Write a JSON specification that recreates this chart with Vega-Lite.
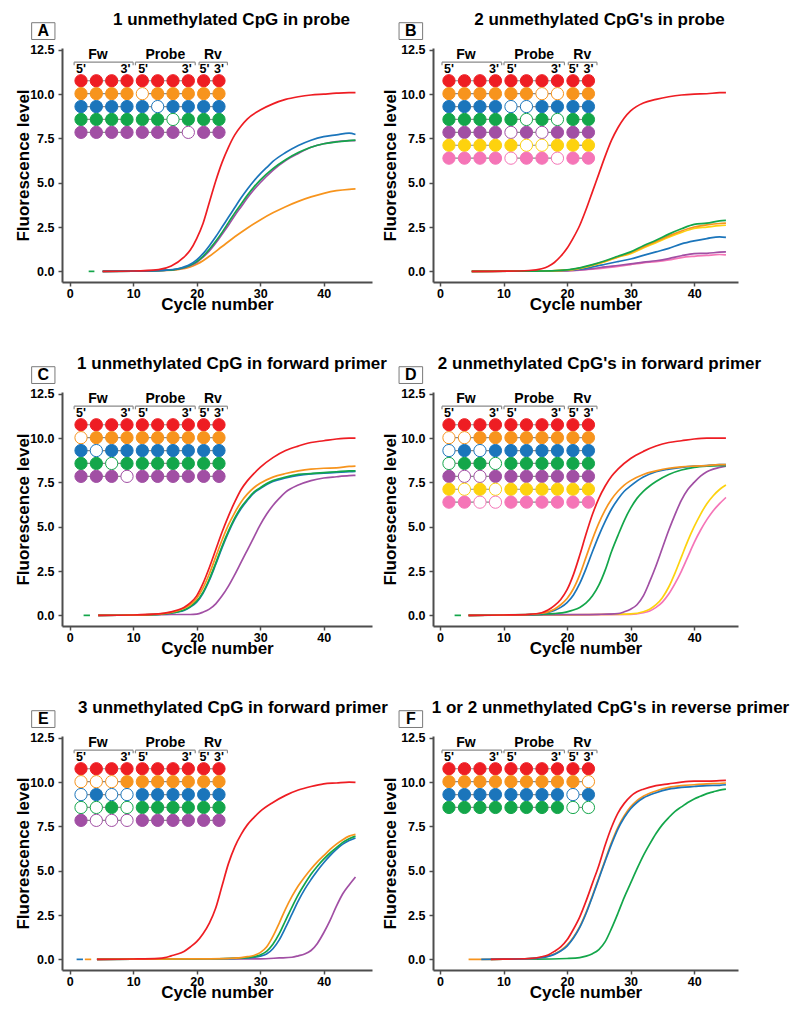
{
  "$schema": "https://vega.github.io/schema/vega-lite/v6.json",
  "background": "white",
  "padding": {"left": 14, "top": 10, "right": 5, "bottom": 5},
  "columns": 2,
  "spacing": {"row": 110, "column": 61},
  "bounds": "flush",
  "config": {
    "font": "Liberation Sans",
    "view": {"stroke": null},
    "title": {"fontSize": 17, "fontWeight": "bold", "color": "black", "anchor": "middle", "frame": "group", "baseline": "alphabetic", "offset": -6.5},
    "axis": {"domainColor": "#4d4d4d", "domainWidth": 2, "tickColor": "#4d4d4d", "tickWidth": 1.5, "tickSize": 4, "labelFontSize": 12.5, "labelFontWeight": "bold", "labelColor": "black", "titleFontSize": 17, "titleFontWeight": "bold", "titleColor": "black", "grid": false, "labelFlush": false, "labelOverlap": false},
    "axisX": {"labelPadding": 1.5, "titlePadding": -3.5},
    "axisY": {"labelPadding": 4, "titlePadding": -3}
  },
  "datasets": {
    "curves": [
      {"p": "A", "id": "A0", "s": "green", "c": [3, 3.9], "f": [0, 0]},
      {"p": "A", "id": "A1", "s": "orange", "c": [5.2,10,15,17,19,20,21,22,24,26,28,30,32,34,36,38,40,42,44,45], "f": [0,0.01,0.05,0.1,0.25,0.4,0.6,0.85,1.4,1.95,2.45,2.9,3.3,3.65,3.95,4.2,4.4,4.55,4.63,4.65]},
      {"p": "A", "id": "A2", "s": "purple", "c": [5.2,10,15,17,19,20,21,22,23,24,25,26,27,28,29,30,32,34,36,38,40,42,44,45], "f": [0,0.01,0.06,0.12,0.32,0.5,0.8,1.15,1.6,2.1,2.6,3.15,3.65,4.15,4.6,5.0,5.7,6.25,6.65,7.0,7.2,7.32,7.37,7.38]},
      {"p": "A", "id": "A3", "s": "green", "c": [5.2,10,15,17,19,20,21,22,23,24,25,26,27,28,29,30,32,34,36,38,40,42,44,45], "f": [0,0.01,0.06,0.13,0.35,0.55,0.85,1.25,1.7,2.2,2.75,3.3,3.8,4.3,4.75,5.15,5.8,6.3,6.7,7.0,7.2,7.3,7.38,7.4]},
      {"p": "A", "id": "A4", "s": "blue", "c": [5.2,10,15,17,19,20,21,22,23,24,25,26,27,28,29,30,31,32,34,36,38,40,42,44,45], "f": [0,0.01,0.07,0.15,0.4,0.65,1.0,1.45,1.95,2.5,3.05,3.6,4.15,4.65,5.1,5.5,5.85,6.2,6.7,7.1,7.4,7.6,7.7,7.8,7.72]},
      {"p": "A", "id": "A5", "s": "red", "c": [5.2,10,14,16,18,19,20,21,22,23,24,25,26,27,28,30,32,34,36,38,40,42,44,45], "f": [0,0.02,0.1,0.3,0.8,1.2,1.85,2.7,3.9,5.1,6.15,7.0,7.7,8.2,8.6,9.1,9.45,9.7,9.85,9.95,10.0,10.05,10.08,10.08]},

      {"p": "B", "id": "B1", "s": "pink", "c": [5,15,20,22,24,26,28,30,32,34,36,38,40,42,44,45], "f": [0,0.01,0.03,0.07,0.12,0.2,0.28,0.38,0.48,0.55,0.65,0.78,0.85,0.9,0.95,0.93]},
      {"p": "B", "id": "B2", "s": "purple", "c": [5,15,20,22,24,26,28,30,32,34,36,38,40,42,44,45], "f": [0,0.01,0.04,0.08,0.15,0.25,0.33,0.42,0.52,0.6,0.72,0.88,1.0,1.02,1.08,1.1]},
      {"p": "B", "id": "B3", "s": "blue", "c": [5,15,20,22,24,26,28,30,32,34,36,38,40,42,44,45], "f": [0,0.01,0.05,0.12,0.25,0.4,0.55,0.7,0.9,1.1,1.3,1.55,1.72,1.85,1.95,1.92]},
      {"p": "B", "id": "B4", "s": "yellow", "c": [5,15,20,22,24,26,28,30,32,34,36,38,40,42,44,45], "f": [0,0.01,0.07,0.17,0.34,0.55,0.8,1.0,1.32,1.62,1.93,2.2,2.42,2.5,2.58,2.6]},
      {"p": "B", "id": "B5", "s": "orange", "c": [5,15,20,22,24,26,28,30,32,34,36,38,40,42,44,45], "f": [0,0.01,0.07,0.18,0.36,0.57,0.82,1.05,1.38,1.68,2.0,2.28,2.5,2.62,2.7,2.72]},
      {"p": "B", "id": "B6", "s": "green", "c": [5,15,20,22,24,26,28,30,32,34,36,38,40,42,44,45], "f": [0,0.01,0.08,0.2,0.38,0.6,0.85,1.1,1.45,1.75,2.1,2.4,2.65,2.72,2.85,2.88]},
      {"p": "B", "id": "B7", "s": "red", "c": [5,10,14,16,17,18,19,20,21,22,23,24,25,26,27,28,29,30,32,34,36,38,40,42,44,45], "f": [0,0.01,0.05,0.15,0.28,0.5,0.85,1.3,1.9,2.6,3.5,4.5,5.5,6.5,7.4,8.1,8.65,9.05,9.5,9.7,9.85,9.95,10.0,10.02,10.08,10.08]},

      {"p": "C", "id": "C0", "s": "green", "c": [2.2, 3.2], "f": [0, 0]},
      {"p": "C", "id": "C1", "s": "purple", "c": [4.5,10,14,16,18,19,20,21,22,23,24,25,26,27,28,29,30,31,32,33,34,36,38,40,42,44,45], "f": [0,0.02,0.04,0.05,0.05,0.05,0.07,0.18,0.35,0.65,1.1,1.65,2.3,3.0,3.7,4.4,5.1,5.7,6.2,6.6,6.95,7.35,7.6,7.75,7.82,7.88,7.9]},
      {"p": "C", "id": "C2", "s": "blue", "c": [4.5,10,14,16,17,18,19,20,21,22,23,24,25,26,27,28,29,30,32,34,36,38,40,42,44,45], "f": [0,0.02,0.06,0.13,0.19,0.28,0.47,0.75,1.25,1.98,2.88,3.82,4.68,5.43,6.03,6.5,6.9,7.15,7.55,7.75,7.9,7.98,8.02,8.06,8.1,8.12]},
      {"p": "C", "id": "C3", "s": "green", "c": [4.5,10,14,16,17,18,19,20,21,22,23,24,25,26,27,28,29,30,32,34,36,38,40,42,44,45], "f": [0,0.02,0.06,0.14,0.2,0.3,0.5,0.8,1.3,2.05,2.95,3.9,4.75,5.5,6.1,6.55,6.95,7.2,7.6,7.8,7.95,8.0,8.05,8.1,8.15,8.15]},
      {"p": "C", "id": "C4", "s": "orange", "c": [4.5,10,14,16,17,18,19,20,21,22,23,24,25,26,27,28,29,30,32,34,36,38,40,42,44,45], "f": [0,0.02,0.07,0.17,0.26,0.4,0.6,0.95,1.55,2.35,3.3,4.25,5.1,5.8,6.4,6.85,7.2,7.45,7.8,8.0,8.15,8.25,8.3,8.32,8.4,8.42]},
      {"p": "C", "id": "C5", "s": "red", "c": [4.5,10,14,16,17,18,19,20,21,22,23,24,25,26,27,28,29,30,32,34,36,38,40,42,44,45], "f": [0,0.02,0.08,0.2,0.3,0.45,0.7,1.1,1.8,2.7,3.7,4.7,5.6,6.4,7.1,7.6,8.0,8.35,8.9,9.3,9.55,9.75,9.85,9.95,10.0,10.0]},

      {"p": "D", "id": "D0", "s": "green", "c": [2.3, 3.3], "f": [0, 0]},
      {"p": "D", "id": "D1", "s": "pink", "c": [4.5,10,20,25,30,32,33,34,35,36,37,38,39,40,41,42,43,44,45], "f": [0,0.02,0.03,0.04,0.05,0.15,0.25,0.45,0.75,1.2,1.8,2.5,3.3,4.1,4.8,5.4,5.9,6.3,6.65]},
      {"p": "D", "id": "D2", "s": "yellow", "c": [4.5,10,20,25,30,32,33,34,35,36,37,38,39,40,41,42,43,44,45], "f": [0,0.02,0.03,0.05,0.08,0.2,0.35,0.6,1.0,1.6,2.4,3.3,4.2,5.0,5.7,6.3,6.75,7.1,7.35]},
      {"p": "D", "id": "D3", "s": "purple", "c": [4.5,10,20,25,28,29,30,31,32,33,34,35,36,37,38,39,40,41,42,43,44,45], "f": [0,0.02,0.04,0.06,0.1,0.2,0.35,0.6,1.1,1.9,2.8,3.8,4.8,5.7,6.5,7.1,7.5,7.85,8.1,8.25,8.35,8.42]},
      {"p": "D", "id": "D4", "s": "green", "c": [4.5,10,14,16,18,20,21,22,23,24,25,26,27,28,29,30,31,32,33,34,36,38,40,42,44,45], "f": [0,0.02,0.04,0.06,0.1,0.2,0.3,0.45,0.7,1.1,1.7,2.55,3.6,4.5,5.35,6.05,6.6,7.0,7.3,7.55,7.95,8.2,8.35,8.42,8.45,8.45]},
      {"p": "D", "id": "D5", "s": "blue", "c": [4.5,10,14,16,17,18,19,20,21,22,23,24,25,26,27,28,29,30,32,34,36,38,40,42,44,45], "f": [0,0.02,0.05,0.1,0.17,0.28,0.45,0.72,1.15,1.8,2.65,3.6,4.5,5.3,6.0,6.55,7.0,7.3,7.8,8.1,8.25,8.35,8.42,8.45,8.5,8.5]},
      {"p": "D", "id": "D6", "s": "orange", "c": [4.5,10,14,16,17,18,19,20,21,22,23,24,25,26,27,28,29,30,32,34,36,38,40,42,44,45], "f": [0,0.02,0.05,0.12,0.2,0.35,0.6,0.95,1.5,2.3,3.3,4.3,5.2,5.95,6.55,7.0,7.35,7.6,7.95,8.15,8.3,8.38,8.42,8.45,8.5,8.5]},
      {"p": "D", "id": "D7", "s": "red", "c": [4.5,10,14,16,17,18,19,20,21,22,23,24,25,26,27,28,30,32,34,36,38,40,42,45], "f": [0,0.02,0.06,0.15,0.3,0.55,0.9,1.45,2.3,3.4,4.6,5.7,6.6,7.3,7.85,8.25,8.85,9.25,9.55,9.75,9.85,9.95,10.0,10.0]},

      {"p": "E", "id": "E0", "s": "blue", "c": [1.1, 2.1], "f": [0, 0]},
      {"p": "E", "id": "E1", "s": "orange", "c": [2.4, 3.4], "f": [0, 0]},
      {"p": "E", "id": "E2", "s": "purple", "c": [4.3,10,20,30,33,35,36,37,38,39,40,41,42,43,44,45], "f": [0,0.01,0.02,0.03,0.08,0.12,0.2,0.3,0.5,0.9,1.5,2.2,3.0,3.7,4.2,4.65]},
      {"p": "E", "id": "E3", "s": "blue", "c": [4.3,10,20,25,28,29,30,31,32,33,34,35,36,37,38,39,40,41,42,43,44,45], "f": [0,0.01,0.03,0.05,0.08,0.12,0.18,0.3,0.6,1.1,1.8,2.55,3.3,3.95,4.5,5.0,5.45,5.85,6.2,6.5,6.7,6.85]},
      {"p": "E", "id": "E4", "s": "green", "c": [4.3,10,20,25,28,29,30,31,32,33,34,35,36,37,38,39,40,41,42,43,44,45], "f": [0,0.01,0.03,0.05,0.1,0.15,0.25,0.45,0.85,1.45,2.2,2.95,3.65,4.25,4.8,5.25,5.65,6.0,6.3,6.6,6.8,6.95]},
      {"p": "E", "id": "E5", "s": "orange", "c": [4.3,10,20,25,27,28,29,30,31,32,33,34,35,36,37,38,39,40,41,42,43,44,45], "f": [0,0.01,0.03,0.06,0.1,0.15,0.22,0.38,0.7,1.3,2.05,2.85,3.55,4.15,4.65,5.1,5.5,5.85,6.2,6.5,6.75,6.95,7.05]},
      {"p": "E", "id": "E6", "s": "red", "c": [4.3,10,14,15,16,17,18,19,20,21,22,23,24,25,26,27,28,29,30,32,34,36,38,40,42,44,45], "f": [0,0.02,0.06,0.1,0.2,0.3,0.45,0.7,1.0,1.45,2.05,2.9,4.15,5.4,6.35,7.05,7.6,8.0,8.35,8.85,9.25,9.55,9.75,9.9,9.95,10.0,9.98]},

      {"p": "F", "id": "F1", "s": "green", "c": [8,10,15,20,22,23,24,25,26,27,28,29,30,31,32,33,34,35,36,37,38,39,40,41,42,43,44,45], "f": [0,0.01,0.01,0.05,0.1,0.18,0.32,0.55,1.0,1.75,2.6,3.5,4.3,5.1,5.85,6.5,7.1,7.6,8.0,8.35,8.6,8.85,9.05,9.2,9.35,9.45,9.55,9.6]},
      {"p": "F", "id": "F2", "s": "orange", "c": [4.5,10,14,16,17,18,19,20,21,22,23,24,25,26,27,28,29,30,31,32,34,36,38,40,42,44,45], "f": [0,0.01,0.04,0.1,0.18,0.3,0.5,0.8,1.25,1.85,2.65,3.6,4.6,5.6,6.6,7.45,8.1,8.6,8.95,9.2,9.5,9.7,9.8,9.85,9.9,9.92,9.95]},
      {"p": "F", "id": "F3", "s": "blue", "c": [6.5,10,14,16,17,18,19,20,21,22,23,24,25,26,27,28,29,30,31,32,34,36,38,40,42,44,45], "f": [0,0.01,0.04,0.1,0.17,0.28,0.47,0.75,1.2,1.8,2.6,3.55,4.55,5.55,6.5,7.35,8.0,8.5,8.85,9.1,9.4,9.6,9.7,9.75,9.8,9.82,9.85]},
      {"p": "F", "id": "F4", "s": "red", "c": [8,10,14,16,17,18,19,20,21,22,23,24,25,26,27,28,29,30,31,32,34,36,38,40,42,44,45], "f": [0,0.01,0.05,0.15,0.25,0.45,0.7,1.1,1.7,2.4,3.3,4.3,5.3,6.45,7.45,8.25,8.8,9.2,9.45,9.6,9.8,9.9,10.0,10.05,10.05,10.08,10.1]}
    ],
    "dots": [
      {"p": "A", "r": 1, "s": "red", "k": [0,1,2,3,4,5,6,7,8,9], "g": ["F","F","F","F","P","P","P","P","R","R"], "o": [0,0,0,0,0,0,0,0,0,0]},
      {"p": "A", "r": 2, "s": "orange", "k": [0,1,2,3,4,5,6,7,8,9], "g": ["F","F","F","F","P","P","P","P","R","R"], "o": [0,0,0,0,1,0,0,0,0,0]},
      {"p": "A", "r": 3, "s": "blue", "k": [0,1,2,3,4,5,6,7,8,9], "g": ["F","F","F","F","P","P","P","P","R","R"], "o": [0,0,0,0,0,1,0,0,0,0]},
      {"p": "A", "r": 4, "s": "green", "k": [0,1,2,3,4,5,6,7,8,9], "g": ["F","F","F","F","P","P","P","P","R","R"], "o": [0,0,0,0,0,0,1,0,0,0]},
      {"p": "A", "r": 5, "s": "purple", "k": [0,1,2,3,4,5,6,7,8,9], "g": ["F","F","F","F","P","P","P","P","R","R"], "o": [0,0,0,0,0,0,0,1,0,0]},

      {"p": "B", "r": 1, "s": "red", "k": [0,1,2,3,4,5,6,7,8,9], "g": ["F","F","F","F","P","P","P","P","R","R"], "o": [0,0,0,0,0,0,0,0,0,0]},
      {"p": "B", "r": 2, "s": "orange", "k": [0,1,2,3,4,5,6,7,8,9], "g": ["F","F","F","F","P","P","P","P","R","R"], "o": [0,0,0,0,0,0,1,1,0,0]},
      {"p": "B", "r": 3, "s": "blue", "k": [0,1,2,3,4,5,6,7,8,9], "g": ["F","F","F","F","P","P","P","P","R","R"], "o": [0,0,0,0,1,1,0,0,0,0]},
      {"p": "B", "r": 4, "s": "green", "k": [0,1,2,3,4,5,6,7,8,9], "g": ["F","F","F","F","P","P","P","P","R","R"], "o": [0,0,0,0,0,1,0,1,0,0]},
      {"p": "B", "r": 5, "s": "purple", "k": [0,1,2,3,4,5,6,7,8,9], "g": ["F","F","F","F","P","P","P","P","R","R"], "o": [0,0,0,0,1,0,1,0,0,0]},
      {"p": "B", "r": 6, "s": "yellow", "k": [0,1,2,3,4,5,6,7,8,9], "g": ["F","F","F","F","P","P","P","P","R","R"], "o": [0,0,0,0,0,1,1,0,0,0]},
      {"p": "B", "r": 7, "s": "pink", "k": [0,1,2,3,4,5,6,7,8,9], "g": ["F","F","F","F","P","P","P","P","R","R"], "o": [0,0,0,0,1,0,0,1,0,0]},

      {"p": "C", "r": 1, "s": "red", "k": [0,1,2,3,4,5,6,7,8,9], "g": ["F","F","F","F","P","P","P","P","R","R"], "o": [0,0,0,0,0,0,0,0,0,0]},
      {"p": "C", "r": 2, "s": "orange", "k": [0,1,2,3,4,5,6,7,8,9], "g": ["F","F","F","F","P","P","P","P","R","R"], "o": [1,0,0,0,0,0,0,0,0,0]},
      {"p": "C", "r": 3, "s": "blue", "k": [0,1,2,3,4,5,6,7,8,9], "g": ["F","F","F","F","P","P","P","P","R","R"], "o": [0,1,0,0,0,0,0,0,0,0]},
      {"p": "C", "r": 4, "s": "green", "k": [0,1,2,3,4,5,6,7,8,9], "g": ["F","F","F","F","P","P","P","P","R","R"], "o": [0,0,1,0,0,0,0,0,0,0]},
      {"p": "C", "r": 5, "s": "purple", "k": [0,1,2,3,4,5,6,7,8,9], "g": ["F","F","F","F","P","P","P","P","R","R"], "o": [0,0,0,1,0,0,0,0,0,0]},

      {"p": "D", "r": 1, "s": "red", "k": [0,1,2,3,4,5,6,7,8,9], "g": ["F","F","F","F","P","P","P","P","R","R"], "o": [0,0,0,0,0,0,0,0,0,0]},
      {"p": "D", "r": 2, "s": "orange", "k": [0,1,2,3,4,5,6,7,8,9], "g": ["F","F","F","F","P","P","P","P","R","R"], "o": [1,1,0,0,0,0,0,0,0,0]},
      {"p": "D", "r": 3, "s": "blue", "k": [0,1,2,3,4,5,6,7,8,9], "g": ["F","F","F","F","P","P","P","P","R","R"], "o": [1,0,1,0,0,0,0,0,0,0]},
      {"p": "D", "r": 4, "s": "green", "k": [0,1,2,3,4,5,6,7,8,9], "g": ["F","F","F","F","P","P","P","P","R","R"], "o": [1,0,0,1,0,0,0,0,0,0]},
      {"p": "D", "r": 5, "s": "purple", "k": [0,1,2,3,4,5,6,7,8,9], "g": ["F","F","F","F","P","P","P","P","R","R"], "o": [0,1,1,0,0,0,0,0,0,0]},
      {"p": "D", "r": 6, "s": "yellow", "k": [0,1,2,3,4,5,6,7,8,9], "g": ["F","F","F","F","P","P","P","P","R","R"], "o": [0,1,0,1,0,0,0,0,0,0]},
      {"p": "D", "r": 7, "s": "pink", "k": [0,1,2,3,4,5,6,7,8,9], "g": ["F","F","F","F","P","P","P","P","R","R"], "o": [0,0,1,1,0,0,0,0,0,0]},

      {"p": "E", "r": 1, "s": "red", "k": [0,1,2,3,4,5,6,7,8,9], "g": ["F","F","F","F","P","P","P","P","R","R"], "o": [0,0,0,0,0,0,0,0,0,0]},
      {"p": "E", "r": 2, "s": "orange", "k": [0,1,2,3,4,5,6,7,8,9], "g": ["F","F","F","F","P","P","P","P","R","R"], "o": [1,1,1,0,0,0,0,0,0,0]},
      {"p": "E", "r": 3, "s": "blue", "k": [0,1,2,3,4,5,6,7,8,9], "g": ["F","F","F","F","P","P","P","P","R","R"], "o": [1,0,1,1,0,0,0,0,0,0]},
      {"p": "E", "r": 4, "s": "green", "k": [0,1,2,3,4,5,6,7,8,9], "g": ["F","F","F","F","P","P","P","P","R","R"], "o": [1,1,0,1,0,0,0,0,0,0]},
      {"p": "E", "r": 5, "s": "purple", "k": [0,1,2,3,4,5,6,7,8,9], "g": ["F","F","F","F","P","P","P","P","R","R"], "o": [0,1,1,1,0,0,0,0,0,0]},

      {"p": "F", "r": 1, "s": "red", "k": [0,1,2,3,4,5,6,7,8,9], "g": ["F","F","F","F","P","P","P","P","R","R"], "o": [0,0,0,0,0,0,0,0,0,0]},
      {"p": "F", "r": 2, "s": "orange", "k": [0,1,2,3,4,5,6,7,8,9], "g": ["F","F","F","F","P","P","P","P","R","R"], "o": [0,0,0,0,0,0,0,0,0,1]},
      {"p": "F", "r": 3, "s": "blue", "k": [0,1,2,3,4,5,6,7,8,9], "g": ["F","F","F","F","P","P","P","P","R","R"], "o": [0,0,0,0,0,0,0,0,1,0]},
      {"p": "F", "r": 4, "s": "green", "k": [0,1,2,3,4,5,6,7,8,9], "g": ["F","F","F","F","P","P","P","P","R","R"], "o": [0,0,0,0,0,0,0,0,1,1]}
    ],
    "parts": [
      {"g": "F", "lab": "Fw", "lo": -0.45, "hi": 3.4, "mid": 1.1},
      {"g": "P", "lab": "Probe", "lo": 3.55, "hi": 7.45, "mid": 5.5},
      {"g": "R", "lab": "Rv", "lo": 7.7, "hi": 9.55, "mid": 8.6}
    ],
    "ends": [
      {"k": 0, "t": "5'"}, {"k": 2.9, "t": "3'"},
      {"k": 4.05, "t": "5'"}, {"k": 6.9, "t": "3'"},
      {"k": 8.05, "t": "5'"}, {"k": 9, "t": "3'"}
    ]
  },
  "concat": [
    {
      "width": 310, "height": 234,
      "title": {"text": "1 unmethylated CpG in probe", "dx": 14.5},
      "resolve": {"scale": {"x": "independent", "y": "independent"}},
      "layer": [
        {"data": {"name": "curves"}, "transform": [{"filter": "datum.p == 'A'"}, {"flatten": ["c", "f"]}],
         "mark": {"type": "line", "strokeWidth": 1.7, "interpolate": "monotone"},
         "encoding": {
           "x": {"field": "c", "type": "quantitative", "scale": {"domain": [-1.2, 47.6], "nice": false, "zero": false}, "axis": {"values": [0, 10, 20, 30, 40], "title": "Cycle number"}},
           "y": {"field": "f", "type": "quantitative", "scale": {"domain": [-0.6, 12.6], "nice": false, "zero": false}, "axis": {"values": [0, 2.5, 5, 7.5, 10, 12.5], "format": ".1f", "title": "Fluorescence level"}},
           "color": {"field": "s", "type": "nominal", "scale": {"domain": ["red","orange","blue","green","purple","yellow","pink"], "range": ["#EE1D23","#F7941D","#1B75BB","#13A64A","#A14FA4","#FDD20E","#F575B7"]}, "legend": null},
           "detail": {"field": "id"}}},
        {"layer": [
          {"data": {"name": "dots"}, "transform": [{"filter": "datum.p == 'A'"}, {"flatten": ["k", "g", "o"]}],
           "layer": [
             {"mark": {"type": "line", "color": "#8a8a8a", "strokeWidth": 1.2},
              "encoding": {"x": {"field": "k", "type": "quantitative", "scale": {"domain": [-1.24, 18.98], "nice": false, "zero": false}, "axis": null},
                           "y": {"field": "r", "type": "quantitative", "scale": {"domain": [-1.54, 16.6], "nice": false, "zero": false, "reverse": true}, "axis": null},
                           "detail": [{"field": "r"}, {"field": "g"}]}},
             {"mark": {"type": "point", "shape": "circle", "size": 150, "filled": true, "strokeWidth": 1, "opacity": 1},
              "encoding": {"x": {"field": "k", "type": "quantitative", "scale": {"domain": [-1.24, 18.98], "nice": false, "zero": false}, "axis": null},
                           "y": {"field": "r", "type": "quantitative", "scale": {"domain": [-1.54, 16.6], "nice": false, "zero": false, "reverse": true}, "axis": null},
                           "fill": {"field": "s", "type": "nominal", "scale": {"domain": ["red","orange","blue","green","purple","yellow","pink"], "range": ["#EE1D23","#F7941D","#1B75BB","#13A64A","#A14FA4","#FDD20E","#F575B7"]}, "legend": null, "condition": {"test": "datum.o == 1", "value": "white"}},
                           "stroke": {"field": "s", "type": "nominal", "scale": {"domain": ["red","orange","blue","green","purple","yellow","pink"], "range": ["#EE1D23","#F7941D","#1B75BB","#13A64A","#A14FA4","#FDD20E","#F575B7"]}, "legend": null}}}]},
          {"data": {"name": "parts"},
           "layer": [
             {"mark": {"type": "rule", "color": "#8a8a8a", "strokeWidth": 1.2},
              "encoding": {"x": {"field": "lo", "type": "quantitative", "scale": {"domain": [-1.24, 18.98], "nice": false, "zero": false}, "axis": null}, "x2": {"field": "hi"},
                           "y": {"datum": -0.44, "type": "quantitative", "scale": {"domain": [-1.54, 16.6], "nice": false, "zero": false, "reverse": true}, "axis": null}}},
             {"mark": {"type": "rule", "color": "#8a8a8a", "strokeWidth": 1.2},
              "encoding": {"x": {"field": "lo", "type": "quantitative", "scale": {"domain": [-1.24, 18.98], "nice": false, "zero": false}, "axis": null},
                           "y": {"datum": -0.44, "type": "quantitative", "scale": {"domain": [-1.54, 16.6], "nice": false, "zero": false, "reverse": true}, "axis": null}, "y2": {"datum": -0.2}}},
             {"mark": {"type": "rule", "color": "#8a8a8a", "strokeWidth": 1.2},
              "encoding": {"x": {"field": "hi", "type": "quantitative", "scale": {"domain": [-1.24, 18.98], "nice": false, "zero": false}, "axis": null},
                           "y": {"datum": -0.44, "type": "quantitative", "scale": {"domain": [-1.54, 16.6], "nice": false, "zero": false, "reverse": true}, "axis": null}, "y2": {"datum": -0.2}}},
             {"mark": {"type": "text", "fontSize": 14, "fontWeight": "bold", "baseline": "middle", "color": "black"},
              "encoding": {"x": {"field": "mid", "type": "quantitative", "scale": {"domain": [-1.24, 18.98], "nice": false, "zero": false}, "axis": null},
                           "y": {"datum": -0.98, "type": "quantitative", "scale": {"domain": [-1.54, 16.6], "nice": false, "zero": false, "reverse": true}, "axis": null},
                           "text": {"field": "lab"}}}]},
          {"data": {"name": "ends"},
           "mark": {"type": "text", "fontSize": 12.5, "fontWeight": "bold", "baseline": "middle", "color": "black"},
           "encoding": {"x": {"field": "k", "type": "quantitative", "scale": {"domain": [-1.24, 18.98], "nice": false, "zero": false}, "axis": null},
                        "y": {"datum": 0.09, "type": "quantitative", "scale": {"domain": [-1.54, 16.6], "nice": false, "zero": false, "reverse": true}, "axis": null},
                        "text": {"field": "t"}}},
          {"data": {"values": [{"t": "A"}]},
           "layer": [
             {"mark": {"type": "rect", "fill": "white", "stroke": "#7a7a7a", "strokeWidth": 1},
              "encoding": {"x": {"datum": -3.22, "type": "quantitative", "scale": {"domain": [-1.24, 18.98], "nice": false, "zero": false}, "axis": null}, "x2": {"datum": -1.7},
                           "y": {"datum": -3.5, "type": "quantitative", "scale": {"domain": [-1.54, 16.6], "nice": false, "zero": false, "reverse": true}, "axis": null}, "y2": {"datum": -2.2}}},
             {"mark": {"type": "text", "fontSize": 16, "fontWeight": "bold", "baseline": "middle", "color": "black"},
              "encoding": {"x": {"datum": -2.46, "type": "quantitative", "scale": {"domain": [-1.24, 18.98], "nice": false, "zero": false}, "axis": null},
                           "y": {"datum": -2.85, "type": "quantitative", "scale": {"domain": [-1.54, 16.6], "nice": false, "zero": false, "reverse": true}, "axis": null},
                           "text": {"field": "t"}}}]}
        ]}
      ]
    },
    {
      "width": 305, "height": 234,
      "title": {"text": "2 unmethylated CpG's in probe", "dx": 14},
      "resolve": {"scale": {"x": "independent", "y": "independent"}},
      "layer": [
        {"data": {"name": "curves"}, "transform": [{"filter": "datum.p == 'B'"}, {"flatten": ["c", "f"]}],
         "mark": {"type": "line", "strokeWidth": 1.7, "interpolate": "monotone"},
         "encoding": {
           "x": {"field": "c", "type": "quantitative", "scale": {"domain": [-1.1, 46.9], "nice": false, "zero": false}, "axis": {"values": [0, 10, 20, 30, 40], "title": "Cycle number"}},
           "y": {"field": "f", "type": "quantitative", "scale": {"domain": [-0.6, 12.6], "nice": false, "zero": false}, "axis": {"values": [0, 2.5, 5, 7.5, 10, 12.5], "format": ".1f", "title": "Fluorescence level", "titlePadding": 1}},
           "color": {"field": "s", "type": "nominal", "scale": {"domain": ["red","orange","blue","green","purple","yellow","pink"], "range": ["#EE1D23","#F7941D","#1B75BB","#13A64A","#A14FA4","#FDD20E","#F575B7"]}, "legend": null},
           "detail": {"field": "id"}}},
        {"layer": [
          {"data": {"name": "dots"}, "transform": [{"filter": "datum.p == 'B'"}, {"flatten": ["k", "g", "o"]}],
           "layer": [
             {"mark": {"type": "line", "color": "#8a8a8a", "strokeWidth": 1.2},
              "encoding": {"x": {"field": "k", "type": "quantitative", "scale": {"domain": [-1.03, 18.65], "nice": false, "zero": false}, "axis": null},
                           "y": {"field": "r", "type": "quantitative", "scale": {"domain": [-1.54, 16.6], "nice": false, "zero": false, "reverse": true}, "axis": null},
                           "detail": [{"field": "r"}, {"field": "g"}]}},
             {"mark": {"type": "point", "shape": "circle", "size": 150, "filled": true, "strokeWidth": 1, "opacity": 1},
              "encoding": {"x": {"field": "k", "type": "quantitative", "scale": {"domain": [-1.03, 18.65], "nice": false, "zero": false}, "axis": null},
                           "y": {"field": "r", "type": "quantitative", "scale": {"domain": [-1.54, 16.6], "nice": false, "zero": false, "reverse": true}, "axis": null},
                           "fill": {"field": "s", "type": "nominal", "scale": {"domain": ["red","orange","blue","green","purple","yellow","pink"], "range": ["#EE1D23","#F7941D","#1B75BB","#13A64A","#A14FA4","#FDD20E","#F575B7"]}, "legend": null, "condition": {"test": "datum.o == 1", "value": "white"}},
                           "stroke": {"field": "s", "type": "nominal", "scale": {"domain": ["red","orange","blue","green","purple","yellow","pink"], "range": ["#EE1D23","#F7941D","#1B75BB","#13A64A","#A14FA4","#FDD20E","#F575B7"]}, "legend": null}}}]},
          {"data": {"name": "parts"},
           "layer": [
             {"mark": {"type": "rule", "color": "#8a8a8a", "strokeWidth": 1.2},
              "encoding": {"x": {"field": "lo", "type": "quantitative", "scale": {"domain": [-1.03, 18.65], "nice": false, "zero": false}, "axis": null}, "x2": {"field": "hi"},
                           "y": {"datum": -0.44, "type": "quantitative", "scale": {"domain": [-1.54, 16.6], "nice": false, "zero": false, "reverse": true}, "axis": null}}},
             {"mark": {"type": "rule", "color": "#8a8a8a", "strokeWidth": 1.2},
              "encoding": {"x": {"field": "lo", "type": "quantitative", "scale": {"domain": [-1.03, 18.65], "nice": false, "zero": false}, "axis": null},
                           "y": {"datum": -0.44, "type": "quantitative", "scale": {"domain": [-1.54, 16.6], "nice": false, "zero": false, "reverse": true}, "axis": null}, "y2": {"datum": -0.2}}},
             {"mark": {"type": "rule", "color": "#8a8a8a", "strokeWidth": 1.2},
              "encoding": {"x": {"field": "hi", "type": "quantitative", "scale": {"domain": [-1.03, 18.65], "nice": false, "zero": false}, "axis": null},
                           "y": {"datum": -0.44, "type": "quantitative", "scale": {"domain": [-1.54, 16.6], "nice": false, "zero": false, "reverse": true}, "axis": null}, "y2": {"datum": -0.2}}},
             {"mark": {"type": "text", "fontSize": 14, "fontWeight": "bold", "baseline": "middle", "color": "black"},
              "encoding": {"x": {"field": "mid", "type": "quantitative", "scale": {"domain": [-1.03, 18.65], "nice": false, "zero": false}, "axis": null},
                           "y": {"datum": -0.98, "type": "quantitative", "scale": {"domain": [-1.54, 16.6], "nice": false, "zero": false, "reverse": true}, "axis": null},
                           "text": {"field": "lab"}}}]},
          {"data": {"name": "ends"},
           "mark": {"type": "text", "fontSize": 12.5, "fontWeight": "bold", "baseline": "middle", "color": "black"},
           "encoding": {"x": {"field": "k", "type": "quantitative", "scale": {"domain": [-1.03, 18.65], "nice": false, "zero": false}, "axis": null},
                        "y": {"datum": 0.09, "type": "quantitative", "scale": {"domain": [-1.54, 16.6], "nice": false, "zero": false, "reverse": true}, "axis": null},
                        "text": {"field": "t"}}},
          {"data": {"values": [{"t": "B"}]},
           "layer": [
             {"mark": {"type": "rect", "fill": "white", "stroke": "#7a7a7a", "strokeWidth": 1},
              "encoding": {"x": {"datum": -3.22, "type": "quantitative", "scale": {"domain": [-1.03, 18.65], "nice": false, "zero": false}, "axis": null}, "x2": {"datum": -1.7},
                           "y": {"datum": -3.5, "type": "quantitative", "scale": {"domain": [-1.54, 16.6], "nice": false, "zero": false, "reverse": true}, "axis": null}, "y2": {"datum": -2.2}}},
             {"mark": {"type": "text", "fontSize": 16, "fontWeight": "bold", "baseline": "middle", "color": "black"},
              "encoding": {"x": {"datum": -2.46, "type": "quantitative", "scale": {"domain": [-1.03, 18.65], "nice": false, "zero": false}, "axis": null},
                           "y": {"datum": -2.85, "type": "quantitative", "scale": {"domain": [-1.54, 16.6], "nice": false, "zero": false, "reverse": true}, "axis": null},
                           "text": {"field": "t"}}}]}
        ]}
      ]
    },
    {
      "width": 310, "height": 234,
      "title": {"text": "1 unmethylated CpG in forward primer", "dx": 15},
      "resolve": {"scale": {"x": "independent", "y": "independent"}},
      "layer": [
        {"data": {"name": "curves"}, "transform": [{"filter": "datum.p == 'C'"}, {"flatten": ["c", "f"]}],
         "mark": {"type": "line", "strokeWidth": 1.7, "interpolate": "monotone"},
         "encoding": {
           "x": {"field": "c", "type": "quantitative", "scale": {"domain": [-1.2, 47.6], "nice": false, "zero": false}, "axis": {"values": [0, 10, 20, 30, 40], "title": "Cycle number"}},
           "y": {"field": "f", "type": "quantitative", "scale": {"domain": [-0.6, 12.6], "nice": false, "zero": false}, "axis": {"values": [0, 2.5, 5, 7.5, 10, 12.5], "format": ".1f", "title": "Fluorescence level"}},
           "color": {"field": "s", "type": "nominal", "scale": {"domain": ["red","orange","blue","green","purple","yellow","pink"], "range": ["#EE1D23","#F7941D","#1B75BB","#13A64A","#A14FA4","#FDD20E","#F575B7"]}, "legend": null},
           "detail": {"field": "id"}}},
        {"layer": [
          {"data": {"name": "dots"}, "transform": [{"filter": "datum.p == 'C'"}, {"flatten": ["k", "g", "o"]}],
           "layer": [
             {"mark": {"type": "line", "color": "#8a8a8a", "strokeWidth": 1.2},
              "encoding": {"x": {"field": "k", "type": "quantitative", "scale": {"domain": [-1.24, 18.98], "nice": false, "zero": false}, "axis": null},
                           "y": {"field": "r", "type": "quantitative", "scale": {"domain": [-1.54, 16.6], "nice": false, "zero": false, "reverse": true}, "axis": null},
                           "detail": [{"field": "r"}, {"field": "g"}]}},
             {"mark": {"type": "point", "shape": "circle", "size": 150, "filled": true, "strokeWidth": 1, "opacity": 1},
              "encoding": {"x": {"field": "k", "type": "quantitative", "scale": {"domain": [-1.24, 18.98], "nice": false, "zero": false}, "axis": null},
                           "y": {"field": "r", "type": "quantitative", "scale": {"domain": [-1.54, 16.6], "nice": false, "zero": false, "reverse": true}, "axis": null},
                           "fill": {"field": "s", "type": "nominal", "scale": {"domain": ["red","orange","blue","green","purple","yellow","pink"], "range": ["#EE1D23","#F7941D","#1B75BB","#13A64A","#A14FA4","#FDD20E","#F575B7"]}, "legend": null, "condition": {"test": "datum.o == 1", "value": "white"}},
                           "stroke": {"field": "s", "type": "nominal", "scale": {"domain": ["red","orange","blue","green","purple","yellow","pink"], "range": ["#EE1D23","#F7941D","#1B75BB","#13A64A","#A14FA4","#FDD20E","#F575B7"]}, "legend": null}}}]},
          {"data": {"name": "parts"},
           "layer": [
             {"mark": {"type": "rule", "color": "#8a8a8a", "strokeWidth": 1.2},
              "encoding": {"x": {"field": "lo", "type": "quantitative", "scale": {"domain": [-1.24, 18.98], "nice": false, "zero": false}, "axis": null}, "x2": {"field": "hi"},
                           "y": {"datum": -0.44, "type": "quantitative", "scale": {"domain": [-1.54, 16.6], "nice": false, "zero": false, "reverse": true}, "axis": null}}},
             {"mark": {"type": "rule", "color": "#8a8a8a", "strokeWidth": 1.2},
              "encoding": {"x": {"field": "lo", "type": "quantitative", "scale": {"domain": [-1.24, 18.98], "nice": false, "zero": false}, "axis": null},
                           "y": {"datum": -0.44, "type": "quantitative", "scale": {"domain": [-1.54, 16.6], "nice": false, "zero": false, "reverse": true}, "axis": null}, "y2": {"datum": -0.2}}},
             {"mark": {"type": "rule", "color": "#8a8a8a", "strokeWidth": 1.2},
              "encoding": {"x": {"field": "hi", "type": "quantitative", "scale": {"domain": [-1.24, 18.98], "nice": false, "zero": false}, "axis": null},
                           "y": {"datum": -0.44, "type": "quantitative", "scale": {"domain": [-1.54, 16.6], "nice": false, "zero": false, "reverse": true}, "axis": null}, "y2": {"datum": -0.2}}},
             {"mark": {"type": "text", "fontSize": 14, "fontWeight": "bold", "baseline": "middle", "color": "black"},
              "encoding": {"x": {"field": "mid", "type": "quantitative", "scale": {"domain": [-1.24, 18.98], "nice": false, "zero": false}, "axis": null},
                           "y": {"datum": -0.98, "type": "quantitative", "scale": {"domain": [-1.54, 16.6], "nice": false, "zero": false, "reverse": true}, "axis": null},
                           "text": {"field": "lab"}}}]},
          {"data": {"name": "ends"},
           "mark": {"type": "text", "fontSize": 12.5, "fontWeight": "bold", "baseline": "middle", "color": "black"},
           "encoding": {"x": {"field": "k", "type": "quantitative", "scale": {"domain": [-1.24, 18.98], "nice": false, "zero": false}, "axis": null},
                        "y": {"datum": 0.09, "type": "quantitative", "scale": {"domain": [-1.54, 16.6], "nice": false, "zero": false, "reverse": true}, "axis": null},
                        "text": {"field": "t"}}},
          {"data": {"values": [{"t": "C"}]},
           "layer": [
             {"mark": {"type": "rect", "fill": "white", "stroke": "#7a7a7a", "strokeWidth": 1},
              "encoding": {"x": {"datum": -3.22, "type": "quantitative", "scale": {"domain": [-1.24, 18.98], "nice": false, "zero": false}, "axis": null}, "x2": {"datum": -1.7},
                           "y": {"datum": -3.5, "type": "quantitative", "scale": {"domain": [-1.54, 16.6], "nice": false, "zero": false, "reverse": true}, "axis": null}, "y2": {"datum": -2.2}}},
             {"mark": {"type": "text", "fontSize": 16, "fontWeight": "bold", "baseline": "middle", "color": "black"},
              "encoding": {"x": {"datum": -2.46, "type": "quantitative", "scale": {"domain": [-1.24, 18.98], "nice": false, "zero": false}, "axis": null},
                           "y": {"datum": -2.85, "type": "quantitative", "scale": {"domain": [-1.54, 16.6], "nice": false, "zero": false, "reverse": true}, "axis": null},
                           "text": {"field": "t"}}}]}
        ]}
      ]
    },
    {
      "width": 305, "height": 234,
      "title": {"text": "2 unmethylated CpG's in forward primer", "dx": 14},
      "resolve": {"scale": {"x": "independent", "y": "independent"}},
      "layer": [
        {"data": {"name": "curves"}, "transform": [{"filter": "datum.p == 'D'"}, {"flatten": ["c", "f"]}],
         "mark": {"type": "line", "strokeWidth": 1.7, "interpolate": "monotone"},
         "encoding": {
           "x": {"field": "c", "type": "quantitative", "scale": {"domain": [-1.1, 46.9], "nice": false, "zero": false}, "axis": {"values": [0, 10, 20, 30, 40], "title": "Cycle number"}},
           "y": {"field": "f", "type": "quantitative", "scale": {"domain": [-0.6, 12.6], "nice": false, "zero": false}, "axis": {"values": [0, 2.5, 5, 7.5, 10, 12.5], "format": ".1f", "title": "Fluorescence level", "titlePadding": 1}},
           "color": {"field": "s", "type": "nominal", "scale": {"domain": ["red","orange","blue","green","purple","yellow","pink"], "range": ["#EE1D23","#F7941D","#1B75BB","#13A64A","#A14FA4","#FDD20E","#F575B7"]}, "legend": null},
           "detail": {"field": "id"}}},
        {"layer": [
          {"data": {"name": "dots"}, "transform": [{"filter": "datum.p == 'D'"}, {"flatten": ["k", "g", "o"]}],
           "layer": [
             {"mark": {"type": "line", "color": "#8a8a8a", "strokeWidth": 1.2},
              "encoding": {"x": {"field": "k", "type": "quantitative", "scale": {"domain": [-1.03, 18.65], "nice": false, "zero": false}, "axis": null},
                           "y": {"field": "r", "type": "quantitative", "scale": {"domain": [-1.54, 16.6], "nice": false, "zero": false, "reverse": true}, "axis": null},
                           "detail": [{"field": "r"}, {"field": "g"}]}},
             {"mark": {"type": "point", "shape": "circle", "size": 150, "filled": true, "strokeWidth": 1, "opacity": 1},
              "encoding": {"x": {"field": "k", "type": "quantitative", "scale": {"domain": [-1.03, 18.65], "nice": false, "zero": false}, "axis": null},
                           "y": {"field": "r", "type": "quantitative", "scale": {"domain": [-1.54, 16.6], "nice": false, "zero": false, "reverse": true}, "axis": null},
                           "fill": {"field": "s", "type": "nominal", "scale": {"domain": ["red","orange","blue","green","purple","yellow","pink"], "range": ["#EE1D23","#F7941D","#1B75BB","#13A64A","#A14FA4","#FDD20E","#F575B7"]}, "legend": null, "condition": {"test": "datum.o == 1", "value": "white"}},
                           "stroke": {"field": "s", "type": "nominal", "scale": {"domain": ["red","orange","blue","green","purple","yellow","pink"], "range": ["#EE1D23","#F7941D","#1B75BB","#13A64A","#A14FA4","#FDD20E","#F575B7"]}, "legend": null}}}]},
          {"data": {"name": "parts"},
           "layer": [
             {"mark": {"type": "rule", "color": "#8a8a8a", "strokeWidth": 1.2},
              "encoding": {"x": {"field": "lo", "type": "quantitative", "scale": {"domain": [-1.03, 18.65], "nice": false, "zero": false}, "axis": null}, "x2": {"field": "hi"},
                           "y": {"datum": -0.44, "type": "quantitative", "scale": {"domain": [-1.54, 16.6], "nice": false, "zero": false, "reverse": true}, "axis": null}}},
             {"mark": {"type": "rule", "color": "#8a8a8a", "strokeWidth": 1.2},
              "encoding": {"x": {"field": "lo", "type": "quantitative", "scale": {"domain": [-1.03, 18.65], "nice": false, "zero": false}, "axis": null},
                           "y": {"datum": -0.44, "type": "quantitative", "scale": {"domain": [-1.54, 16.6], "nice": false, "zero": false, "reverse": true}, "axis": null}, "y2": {"datum": -0.2}}},
             {"mark": {"type": "rule", "color": "#8a8a8a", "strokeWidth": 1.2},
              "encoding": {"x": {"field": "hi", "type": "quantitative", "scale": {"domain": [-1.03, 18.65], "nice": false, "zero": false}, "axis": null},
                           "y": {"datum": -0.44, "type": "quantitative", "scale": {"domain": [-1.54, 16.6], "nice": false, "zero": false, "reverse": true}, "axis": null}, "y2": {"datum": -0.2}}},
             {"mark": {"type": "text", "fontSize": 14, "fontWeight": "bold", "baseline": "middle", "color": "black"},
              "encoding": {"x": {"field": "mid", "type": "quantitative", "scale": {"domain": [-1.03, 18.65], "nice": false, "zero": false}, "axis": null},
                           "y": {"datum": -0.98, "type": "quantitative", "scale": {"domain": [-1.54, 16.6], "nice": false, "zero": false, "reverse": true}, "axis": null},
                           "text": {"field": "lab"}}}]},
          {"data": {"name": "ends"},
           "mark": {"type": "text", "fontSize": 12.5, "fontWeight": "bold", "baseline": "middle", "color": "black"},
           "encoding": {"x": {"field": "k", "type": "quantitative", "scale": {"domain": [-1.03, 18.65], "nice": false, "zero": false}, "axis": null},
                        "y": {"datum": 0.09, "type": "quantitative", "scale": {"domain": [-1.54, 16.6], "nice": false, "zero": false, "reverse": true}, "axis": null},
                        "text": {"field": "t"}}},
          {"data": {"values": [{"t": "D"}]},
           "layer": [
             {"mark": {"type": "rect", "fill": "white", "stroke": "#7a7a7a", "strokeWidth": 1},
              "encoding": {"x": {"datum": -3.22, "type": "quantitative", "scale": {"domain": [-1.03, 18.65], "nice": false, "zero": false}, "axis": null}, "x2": {"datum": -1.7},
                           "y": {"datum": -3.5, "type": "quantitative", "scale": {"domain": [-1.54, 16.6], "nice": false, "zero": false, "reverse": true}, "axis": null}, "y2": {"datum": -2.2}}},
             {"mark": {"type": "text", "fontSize": 16, "fontWeight": "bold", "baseline": "middle", "color": "black"},
              "encoding": {"x": {"datum": -2.46, "type": "quantitative", "scale": {"domain": [-1.03, 18.65], "nice": false, "zero": false}, "axis": null},
                           "y": {"datum": -2.85, "type": "quantitative", "scale": {"domain": [-1.54, 16.6], "nice": false, "zero": false, "reverse": true}, "axis": null},
                           "text": {"field": "t"}}}]}
        ]}
      ]
    },
    {
      "width": 310, "height": 234,
      "title": {"text": "3 unmethylated CpG in forward primer", "dx": 16},
      "resolve": {"scale": {"x": "independent", "y": "independent"}},
      "layer": [
        {"data": {"name": "curves"}, "transform": [{"filter": "datum.p == 'E'"}, {"flatten": ["c", "f"]}],
         "mark": {"type": "line", "strokeWidth": 1.7, "interpolate": "monotone"},
         "encoding": {
           "x": {"field": "c", "type": "quantitative", "scale": {"domain": [-1.2, 47.6], "nice": false, "zero": false}, "axis": {"values": [0, 10, 20, 30, 40], "title": "Cycle number"}},
           "y": {"field": "f", "type": "quantitative", "scale": {"domain": [-0.6, 12.6], "nice": false, "zero": false}, "axis": {"values": [0, 2.5, 5, 7.5, 10, 12.5], "format": ".1f", "title": "Fluorescence level"}},
           "color": {"field": "s", "type": "nominal", "scale": {"domain": ["red","orange","blue","green","purple","yellow","pink"], "range": ["#EE1D23","#F7941D","#1B75BB","#13A64A","#A14FA4","#FDD20E","#F575B7"]}, "legend": null},
           "detail": {"field": "id"}}},
        {"layer": [
          {"data": {"name": "dots"}, "transform": [{"filter": "datum.p == 'E'"}, {"flatten": ["k", "g", "o"]}],
           "layer": [
             {"mark": {"type": "line", "color": "#8a8a8a", "strokeWidth": 1.2},
              "encoding": {"x": {"field": "k", "type": "quantitative", "scale": {"domain": [-1.24, 18.98], "nice": false, "zero": false}, "axis": null},
                           "y": {"field": "r", "type": "quantitative", "scale": {"domain": [-1.54, 16.6], "nice": false, "zero": false, "reverse": true}, "axis": null},
                           "detail": [{"field": "r"}, {"field": "g"}]}},
             {"mark": {"type": "point", "shape": "circle", "size": 150, "filled": true, "strokeWidth": 1, "opacity": 1},
              "encoding": {"x": {"field": "k", "type": "quantitative", "scale": {"domain": [-1.24, 18.98], "nice": false, "zero": false}, "axis": null},
                           "y": {"field": "r", "type": "quantitative", "scale": {"domain": [-1.54, 16.6], "nice": false, "zero": false, "reverse": true}, "axis": null},
                           "fill": {"field": "s", "type": "nominal", "scale": {"domain": ["red","orange","blue","green","purple","yellow","pink"], "range": ["#EE1D23","#F7941D","#1B75BB","#13A64A","#A14FA4","#FDD20E","#F575B7"]}, "legend": null, "condition": {"test": "datum.o == 1", "value": "white"}},
                           "stroke": {"field": "s", "type": "nominal", "scale": {"domain": ["red","orange","blue","green","purple","yellow","pink"], "range": ["#EE1D23","#F7941D","#1B75BB","#13A64A","#A14FA4","#FDD20E","#F575B7"]}, "legend": null}}}]},
          {"data": {"name": "parts"},
           "layer": [
             {"mark": {"type": "rule", "color": "#8a8a8a", "strokeWidth": 1.2},
              "encoding": {"x": {"field": "lo", "type": "quantitative", "scale": {"domain": [-1.24, 18.98], "nice": false, "zero": false}, "axis": null}, "x2": {"field": "hi"},
                           "y": {"datum": -0.44, "type": "quantitative", "scale": {"domain": [-1.54, 16.6], "nice": false, "zero": false, "reverse": true}, "axis": null}}},
             {"mark": {"type": "rule", "color": "#8a8a8a", "strokeWidth": 1.2},
              "encoding": {"x": {"field": "lo", "type": "quantitative", "scale": {"domain": [-1.24, 18.98], "nice": false, "zero": false}, "axis": null},
                           "y": {"datum": -0.44, "type": "quantitative", "scale": {"domain": [-1.54, 16.6], "nice": false, "zero": false, "reverse": true}, "axis": null}, "y2": {"datum": -0.2}}},
             {"mark": {"type": "rule", "color": "#8a8a8a", "strokeWidth": 1.2},
              "encoding": {"x": {"field": "hi", "type": "quantitative", "scale": {"domain": [-1.24, 18.98], "nice": false, "zero": false}, "axis": null},
                           "y": {"datum": -0.44, "type": "quantitative", "scale": {"domain": [-1.54, 16.6], "nice": false, "zero": false, "reverse": true}, "axis": null}, "y2": {"datum": -0.2}}},
             {"mark": {"type": "text", "fontSize": 14, "fontWeight": "bold", "baseline": "middle", "color": "black"},
              "encoding": {"x": {"field": "mid", "type": "quantitative", "scale": {"domain": [-1.24, 18.98], "nice": false, "zero": false}, "axis": null},
                           "y": {"datum": -0.98, "type": "quantitative", "scale": {"domain": [-1.54, 16.6], "nice": false, "zero": false, "reverse": true}, "axis": null},
                           "text": {"field": "lab"}}}]},
          {"data": {"name": "ends"},
           "mark": {"type": "text", "fontSize": 12.5, "fontWeight": "bold", "baseline": "middle", "color": "black"},
           "encoding": {"x": {"field": "k", "type": "quantitative", "scale": {"domain": [-1.24, 18.98], "nice": false, "zero": false}, "axis": null},
                        "y": {"datum": 0.09, "type": "quantitative", "scale": {"domain": [-1.54, 16.6], "nice": false, "zero": false, "reverse": true}, "axis": null},
                        "text": {"field": "t"}}},
          {"data": {"values": [{"t": "E"}]},
           "layer": [
             {"mark": {"type": "rect", "fill": "white", "stroke": "#7a7a7a", "strokeWidth": 1},
              "encoding": {"x": {"datum": -3.22, "type": "quantitative", "scale": {"domain": [-1.24, 18.98], "nice": false, "zero": false}, "axis": null}, "x2": {"datum": -1.7},
                           "y": {"datum": -3.5, "type": "quantitative", "scale": {"domain": [-1.54, 16.6], "nice": false, "zero": false, "reverse": true}, "axis": null}, "y2": {"datum": -2.2}}},
             {"mark": {"type": "text", "fontSize": 16, "fontWeight": "bold", "baseline": "middle", "color": "black"},
              "encoding": {"x": {"datum": -2.46, "type": "quantitative", "scale": {"domain": [-1.24, 18.98], "nice": false, "zero": false}, "axis": null},
                           "y": {"datum": -2.85, "type": "quantitative", "scale": {"domain": [-1.54, 16.6], "nice": false, "zero": false, "reverse": true}, "axis": null},
                           "text": {"field": "t"}}}]}
        ]}
      ]
    },
    {
      "width": 305, "height": 234,
      "title": {"text": "1 or 2 unmethylated CpG's in reverse primer", "dx": 25},
      "resolve": {"scale": {"x": "independent", "y": "independent"}},
      "layer": [
        {"data": {"name": "curves"}, "transform": [{"filter": "datum.p == 'F'"}, {"flatten": ["c", "f"]}],
         "mark": {"type": "line", "strokeWidth": 1.7, "interpolate": "monotone"},
         "encoding": {
           "x": {"field": "c", "type": "quantitative", "scale": {"domain": [-1.1, 46.9], "nice": false, "zero": false}, "axis": {"values": [0, 10, 20, 30, 40], "title": "Cycle number"}},
           "y": {"field": "f", "type": "quantitative", "scale": {"domain": [-0.6, 12.6], "nice": false, "zero": false}, "axis": {"values": [0, 2.5, 5, 7.5, 10, 12.5], "format": ".1f", "title": "Fluorescence level", "titlePadding": 1}},
           "color": {"field": "s", "type": "nominal", "scale": {"domain": ["red","orange","blue","green","purple","yellow","pink"], "range": ["#EE1D23","#F7941D","#1B75BB","#13A64A","#A14FA4","#FDD20E","#F575B7"]}, "legend": null},
           "detail": {"field": "id"}}},
        {"layer": [
          {"data": {"name": "dots"}, "transform": [{"filter": "datum.p == 'F'"}, {"flatten": ["k", "g", "o"]}],
           "layer": [
             {"mark": {"type": "line", "color": "#8a8a8a", "strokeWidth": 1.2},
              "encoding": {"x": {"field": "k", "type": "quantitative", "scale": {"domain": [-1.03, 18.65], "nice": false, "zero": false}, "axis": null},
                           "y": {"field": "r", "type": "quantitative", "scale": {"domain": [-1.54, 16.6], "nice": false, "zero": false, "reverse": true}, "axis": null},
                           "detail": [{"field": "r"}, {"field": "g"}]}},
             {"mark": {"type": "point", "shape": "circle", "size": 150, "filled": true, "strokeWidth": 1, "opacity": 1},
              "encoding": {"x": {"field": "k", "type": "quantitative", "scale": {"domain": [-1.03, 18.65], "nice": false, "zero": false}, "axis": null},
                           "y": {"field": "r", "type": "quantitative", "scale": {"domain": [-1.54, 16.6], "nice": false, "zero": false, "reverse": true}, "axis": null},
                           "fill": {"field": "s", "type": "nominal", "scale": {"domain": ["red","orange","blue","green","purple","yellow","pink"], "range": ["#EE1D23","#F7941D","#1B75BB","#13A64A","#A14FA4","#FDD20E","#F575B7"]}, "legend": null, "condition": {"test": "datum.o == 1", "value": "white"}},
                           "stroke": {"field": "s", "type": "nominal", "scale": {"domain": ["red","orange","blue","green","purple","yellow","pink"], "range": ["#EE1D23","#F7941D","#1B75BB","#13A64A","#A14FA4","#FDD20E","#F575B7"]}, "legend": null}}}]},
          {"data": {"name": "parts"},
           "layer": [
             {"mark": {"type": "rule", "color": "#8a8a8a", "strokeWidth": 1.2},
              "encoding": {"x": {"field": "lo", "type": "quantitative", "scale": {"domain": [-1.03, 18.65], "nice": false, "zero": false}, "axis": null}, "x2": {"field": "hi"},
                           "y": {"datum": -0.44, "type": "quantitative", "scale": {"domain": [-1.54, 16.6], "nice": false, "zero": false, "reverse": true}, "axis": null}}},
             {"mark": {"type": "rule", "color": "#8a8a8a", "strokeWidth": 1.2},
              "encoding": {"x": {"field": "lo", "type": "quantitative", "scale": {"domain": [-1.03, 18.65], "nice": false, "zero": false}, "axis": null},
                           "y": {"datum": -0.44, "type": "quantitative", "scale": {"domain": [-1.54, 16.6], "nice": false, "zero": false, "reverse": true}, "axis": null}, "y2": {"datum": -0.2}}},
             {"mark": {"type": "rule", "color": "#8a8a8a", "strokeWidth": 1.2},
              "encoding": {"x": {"field": "hi", "type": "quantitative", "scale": {"domain": [-1.03, 18.65], "nice": false, "zero": false}, "axis": null},
                           "y": {"datum": -0.44, "type": "quantitative", "scale": {"domain": [-1.54, 16.6], "nice": false, "zero": false, "reverse": true}, "axis": null}, "y2": {"datum": -0.2}}},
             {"mark": {"type": "text", "fontSize": 14, "fontWeight": "bold", "baseline": "middle", "color": "black"},
              "encoding": {"x": {"field": "mid", "type": "quantitative", "scale": {"domain": [-1.03, 18.65], "nice": false, "zero": false}, "axis": null},
                           "y": {"datum": -0.98, "type": "quantitative", "scale": {"domain": [-1.54, 16.6], "nice": false, "zero": false, "reverse": true}, "axis": null},
                           "text": {"field": "lab"}}}]},
          {"data": {"name": "ends"},
           "mark": {"type": "text", "fontSize": 12.5, "fontWeight": "bold", "baseline": "middle", "color": "black"},
           "encoding": {"x": {"field": "k", "type": "quantitative", "scale": {"domain": [-1.03, 18.65], "nice": false, "zero": false}, "axis": null},
                        "y": {"datum": 0.09, "type": "quantitative", "scale": {"domain": [-1.54, 16.6], "nice": false, "zero": false, "reverse": true}, "axis": null},
                        "text": {"field": "t"}}},
          {"data": {"values": [{"t": "F"}]},
           "layer": [
             {"mark": {"type": "rect", "fill": "white", "stroke": "#7a7a7a", "strokeWidth": 1},
              "encoding": {"x": {"datum": -3.22, "type": "quantitative", "scale": {"domain": [-1.03, 18.65], "nice": false, "zero": false}, "axis": null}, "x2": {"datum": -1.7},
                           "y": {"datum": -3.5, "type": "quantitative", "scale": {"domain": [-1.54, 16.6], "nice": false, "zero": false, "reverse": true}, "axis": null}, "y2": {"datum": -2.2}}},
             {"mark": {"type": "text", "fontSize": 16, "fontWeight": "bold", "baseline": "middle", "color": "black"},
              "encoding": {"x": {"datum": -2.46, "type": "quantitative", "scale": {"domain": [-1.03, 18.65], "nice": false, "zero": false}, "axis": null},
                           "y": {"datum": -2.85, "type": "quantitative", "scale": {"domain": [-1.54, 16.6], "nice": false, "zero": false, "reverse": true}, "axis": null},
                           "text": {"field": "t"}}}]}
        ]}
      ]
    }
  ]
}
